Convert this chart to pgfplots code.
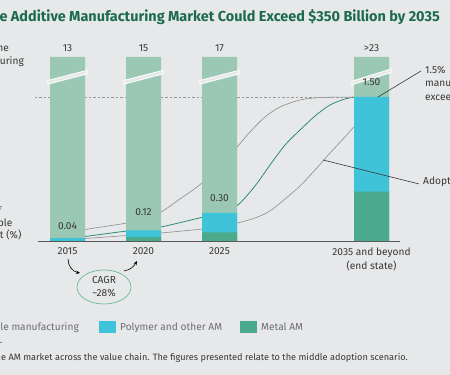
\documentclass[border=0pt]{standalone}
\usepackage{pgfplots}
\pgfplotsset{compat=1.18}
\usepackage{fontspec}
\setmainfont{Fira Sans}
\usetikzlibrary{arrows.meta}
\definecolor{bgc}{HTML}{E7E8E9}
\definecolor{titleg}{HTML}{1C6B4F}
\definecolor{addr}{HTML}{9AC8B5}
\definecolor{poly}{HTML}{3EC3D8}
\definecolor{metal}{HTML}{4BAA8B}
\definecolor{curveg}{HTML}{2E8E72}
\definecolor{curvegray}{HTML}{8C8C8C}
\definecolor{txt}{HTML}{383838}
\definecolor{legtxt}{HTML}{6E6E70}
\definecolor{ellg}{HTML}{6DB89A}
\begin{document}
\begin{tikzpicture}[font=\fontsize{10.2}{12}\selectfont]
\path[use as bounding box] (0,0) rectangle (450bp,375bp);
\clip (0,0) rectangle (450bp,375bp);
\fill[bgc] (0,0) rectangle (450bp,375bp);
\begin{axis}[
  at={(0,133bp)}, anchor=south west,
  scale only axis, width=450bp, height=185bp,
  xmin=-0.8882, xmax=5.0329, ymin=0, ymax=1.9132,
  clip=false, axis line style={draw=none},
  ytick=\empty, xtick={0,1,2,4},
  xticklabels={2015,2020,2025,{2035 and beyond\\(end state)}},
  major tick length=0pt,
  xticklabel style={align=center, text=txt, font=\fontsize{10.2}{13.5}\selectfont, yshift=-2.5bp},
]
% adoption curves (drawn behind bars)
\addplot[curvegray, line width=0.6bp, smooth, tension=0.5] coordinates {
 (0,0.093) (0.230,0.129) (0.783,0.196) (1,0.238) (1.230,0.310) (1.480,0.445)
 (1.770,0.610) (2.0,0.796) (2.230,0.982) (2.401,1.138) (2.599,1.293) (2.796,1.396)
 (3.059,1.468) (3.322,1.494) (3.757,1.499)};
\addplot[curvegray, line width=0.6bp, smooth, tension=0.5] coordinates {
 (0,0.026) (0.230,0.036) (0.783,0.067) (1,0.078) (1.230,0.093) (1.770,0.134)
 (2.0,0.160) (2.230,0.196) (2.467,0.248) (2.664,0.321) (2.862,0.445) (3.059,0.579)
 (3.257,0.745) (3.454,0.920) (3.651,1.086) (3.757,1.179) (3.980,1.344)};
\addplot[curveg, line width=0.8bp, smooth, tension=0.5] coordinates {
 (0,0.041) (0.230,0.057) (0.783,0.114) (1,0.129) (1.230,0.155) (1.743,0.250)
 (2.0,0.300) (2.230,0.375) (2.467,0.579) (2.664,0.796) (2.862,1.003) (3.059,1.158)
 (3.257,1.303) (3.454,1.417) (3.651,1.479) (3.783,1.499)};
\draw[gray!80, line width=0.6bp, dash pattern=on 2.5bp off 2bp] (axis cs:-0.43,1.5) -- (axis cs:3.77,1.5);
% bars
\addplot[ybar, bar width=35bp, bar shift=0pt, fill=addr, draw=none] coordinates {(0,1.9132) (1,1.9132) (2,1.9132) (4,1.9132)};
\addplot[ybar, bar width=35bp, bar shift=0pt, fill=poly, draw=none] coordinates {(0,0.04) (1,0.12) (2,0.30) (4,1.50)};
\addplot[ybar, bar width=35bp, bar shift=0pt, fill=metal, draw=none] coordinates {(0,0.012) (1,0.05) (2,0.10) (4,0.52)};
% baseline
\draw[black!65, line width=1bp] (axis cs:-0.39,0) -- (axis cs:4.38,0);
% axis breaks
\draw[white, fill=bgc, line width=0.8bp] (axis cs:-0.26,1.632) -- (axis cs:0.26,1.738) -- (axis cs:0.26,1.776) -- (axis cs:-0.26,1.670) -- cycle;
\draw[white, fill=bgc, line width=0.8bp] (axis cs:0.74,1.632) -- (axis cs:1.26,1.738) -- (axis cs:1.26,1.776) -- (axis cs:0.74,1.670) -- cycle;
\draw[white, fill=bgc, line width=0.8bp] (axis cs:1.74,1.632) -- (axis cs:2.26,1.738) -- (axis cs:2.26,1.776) -- (axis cs:1.74,1.670) -- cycle;
\draw[white, fill=bgc, line width=0.8bp] (axis cs:3.74,1.625) -- (axis cs:4.26,1.752) -- (axis cs:4.26,1.790) -- (axis cs:3.74,1.663) -- cycle;
% value labels
\node[text=txt] at (axis cs:0,0.165) {0.04};
\node[text=txt] at (axis cs:1,0.31) {0.12};
\node[text=txt] at (axis cs:2,0.455) {0.30};
\node[text=txt] at (axis cs:4,1.655) {1.50};
\node[text=txt, anchor=base] at (axis cs:0,1.97) {13};
\node[text=txt, anchor=base] at (axis cs:1,1.97) {15};
\node[text=txt, anchor=base] at (axis cs:2,1.97) {17};
\node[text=txt, anchor=base] at (axis cs:4,1.97) {>23};
\end{axis}
\begin{scope}[x=1bp, y=-1bp, yshift=375bp]
\node[anchor=base east, text=titleg, font=\fontsize{14.5}{17}\selectfont\bfseries, inner sep=0] at (440,21.5) {The Additive Manufacturing Market Could Exceed \$350 Billion by 2035};
% left labels
\node[anchor=base east, text=txt, inner sep=0] at (9,52) {Share of the};
\node[anchor=base east, text=txt, inner sep=0] at (24,64.5) {manufacturing};
\node[anchor=base east, text=txt, inner sep=0] at (1.5,214.5) {AM share of};
\node[anchor=base east, text=txt, inner sep=0] at (12.5,226.5) {addressable};
\node[anchor=base east, text=txt, inner sep=0] at (21.5,238.5) {market (\%)};
% right labels
\node[anchor=base west, text=txt, inner sep=0] at (425,73.5) {1.5\%\ \ of addressable};
\node[anchor=base west, text=txt, inner sep=0] at (425,87) {manufacturing market};
\node[anchor=base west, text=txt, inner sep=0] at (425,100.5) {exceeded};
\node[anchor=base west, text=txt, inner sep=0] at (423,185) {Adoption scenarios};
\draw[txt, line width=0.6bp] (378,97) -- (421,71);
\draw[txt, line width=0.6bp] (323,160) -- (419,184);
% CAGR
\draw[ellg, line width=0.7bp] (104,287) ellipse [x radius=27, y radius=17];
\node[text=txt, anchor=base] at (104,284) {CAGR};
\node[text=txt, anchor=base] at (104,296.5) {\textasciitilde28\%};
\draw[black, line width=0.6bp, -{Stealth[length=4bp,width=3.5bp]}] (68,259) to[out=-90, in=170] (80,273);
\draw[black, line width=0.6bp, -{Stealth[length=4bp,width=3.5bp]}] (124,271) to[out=10, in=-120] (137,261);
% legend
\fill[addr] (-20,321) rectangle (-3,333);
\node[anchor=base east, text=legtxt, inner sep=0] at (79,330.5) {Addressable manufacturing};
\fill[poly] (99,321) rectangle (116,333);
\node[anchor=base west, text=legtxt, inner sep=0] at (120,330.5) {Polymer and other AM};
\fill[metal] (240,321) rectangle (257,333);
\node[anchor=base west, text=legtxt, inner sep=0] at (261,330.5) {Metal AM};
% footnote
\node[anchor=base east, text=txt, inner sep=0, font=\fontsize{9.2}{11}\selectfont] at (2.5,344) {Source: BCG analysis.};
\node[anchor=base east, text=txt, inner sep=0, font=\fontsize{9.2}{11}\selectfont] at (408,361) {Note: Values cover the AM market across the value chain. The figures presented relate to the middle adoption scenario.};
\end{scope}
\end{tikzpicture}
\end{document}
